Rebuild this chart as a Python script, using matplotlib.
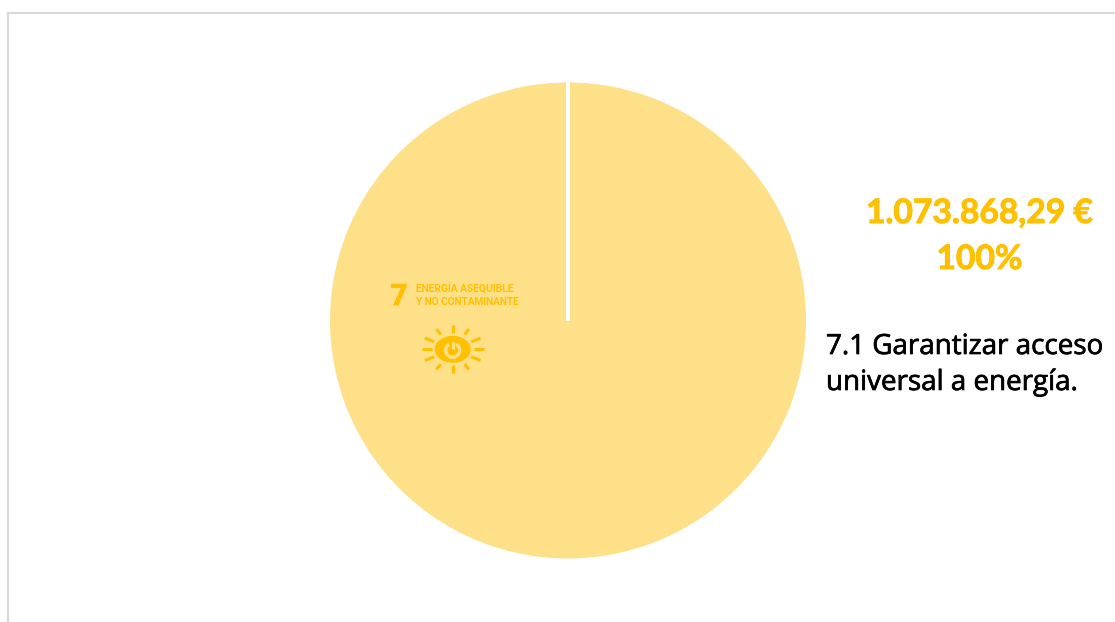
import numpy as np
import matplotlib
matplotlib.use("Agg")
import matplotlib.pyplot as plt
import matplotlib.patheffects as pe
from matplotlib.lines import Line2D
from matplotlib.patches import Ellipse, Arc

W, H = 1115, 622
categories = ["7.1 Garantizar acceso\nuniversal a energía."]
values = [1073868.29]
amount_label = "1.073.868,29 €"
share_label = "100%"
goal_number = "7"
goal_title = ["ENERGÍA ASEQUIBLE", "Y NO CONTAMINANTE"]

PIE = "#FEE088"
GOLD = "#FFC000"
FRAME = "#D9D9D9"

fig = plt.figure(figsize=(W / 100, H / 100), dpi=100, facecolor="white")

# pie axes, placed in pixels
cx, cy, R = 568, 320.5, 238
ax = fig.add_axes([(cx - R) / W, 1 - (cy + R) / H, 2 * R / W, 2 * R / H])
wedges, _ = ax.pie(values, colors=[PIE], startangle=90, counterclock=False, radius=1)
ax.set_xlim(-1, 1)
ax.set_ylim(-1, 1)
ax.set_aspect("equal")
# white seam where the single slice starts and ends
w = wedges[0]
t0 = np.deg2rad(w.theta2)
ax.plot([w.center[0], w.center[0] + 1.02 * w.r * np.cos(t0)],
        [w.center[1], w.center[1] + 1.02 * w.r * np.sin(t0)],
        color="white", lw=2.9, solid_capstyle="butt", clip_on=False)

# overlay in pixel coordinates
ov = fig.add_axes([0, 0, 1, 1], facecolor="none")
ov.set_xlim(0, W)
ov.set_ylim(H, 0)
ov.axis("off")

# frame
ov.add_line(Line2D([8, 8], [622, 13], color=FRAME, lw=1.5))
ov.add_line(Line2D([7.5, 1115], [13, 13], color=FRAME, lw=1.5))

# right-hand labels
fat = [pe.withStroke(linewidth=0.7, foreground=GOLD)]
for y, s in [(223, amount_label), (269, share_label)]:
    ov.text(979.5, y, s, color=GOLD, fontsize=24.2, fontweight="bold",
            family="Lato", ha="center", va="baseline", path_effects=fat)
l1, l2 = categories[0].split("\n")
dark = [pe.withStroke(linewidth=0.5, foreground="black")]
for y, s in [(354, l1), (390, l2)]:
    ov.text(826, y, s, color="black", fontsize=20, fontweight="medium",
            family="Open Sans", ha="left", va="baseline", path_effects=dark)

# goal badge
ov.text(390.5, 305, goal_number, color=GOLD, fontsize=21, fontweight="bold",
        family="Roboto", ha="left", va="baseline", path_effects=fat)
ov.text(416, 292, goal_title[0], color=GOLD, fontsize=7.4, fontweight="bold",
        family="Roboto", ha="left", va="baseline")
ov.text(416, 305, goal_title[1], color=GOLD, fontsize=7.2, fontweight="bold",
        family="Roboto", ha="left", va="baseline")

# sun icon
sx, sy = 452.7, 349.3
ov.add_patch(Ellipse((sx, sy), 36, 27, fc=GOLD, ec="none"))
rays = [(0, 21, 31), (22, 20, 30), (51, 19, 26), (90, 16, 24),
        (129, 19, 26), (158, 20, 30), (180, 21, 31), (202, 20, 30),
        (231, 19, 26), (270, 16, 24), (309, 19, 26), (338, 20, 30)]
for a, r0, r1 in rays:
    t = np.deg2rad(a)
    ov.add_line(Line2D([sx + r0 * np.cos(t), sx + r1 * np.cos(t)],
                       [sy + r0 * np.sin(t), sy + r1 * np.sin(t)],
                       color=GOLD, lw=2.2, solid_capstyle="butt"))
ov.add_patch(Arc((sx, sy + 1), 14, 14, theta1=-60, theta2=240, color=PIE, lw=2.4))
ov.add_line(Line2D([sx, sx], [sy - 7, sy], color=PIE, lw=2.2, solid_capstyle="butt"))

fig.savefig("out.png", dpi=100, facecolor="white")
